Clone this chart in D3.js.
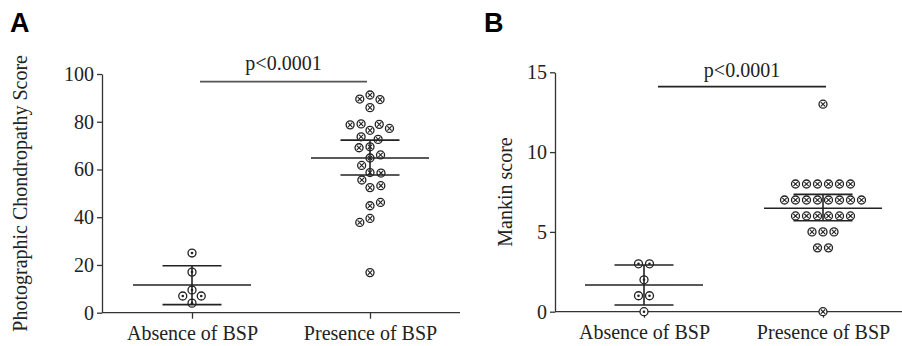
<!DOCTYPE html>
<html><head><meta charset="utf-8">
<script src="https://cdn.jsdelivr.net/npm/d3@7"></script>
<style>
html,body{margin:0;padding:0;background:#fff;}
svg{display:block;}
text{fill:#222;}
</style></head>
<body>
<svg id="chart" width="902" height="346"></svg>
<script>
// ---------- data ----------
const categories = ["Absence of BSP", "Presence of BSP"];

// Panel A: Photographic Chondropathy Score
const ticksA = [0, 20, 40, 60, 80, 100];
const absenceA = [25, 17, 9.5, 4, 7, 7];
const presenceA = [91.2, 85.9, 76.4, 69.5, 64.8, 58.7, 52.4, 16.8,
  89.5, 89.3, 78.9, 79.1, 78.7, 77.2, 73.7, 72.6, 69.1, 66.1, 61.7, 58.5,
  55.6, 53.2, 44.8, 46.2, 39.5, 37.8];
const meanA = [11.6, 64.8];
const lowA = [3.4, 57.7];
const highA = [19.7, 72.3];
const bracketA = 96.8;

// Panel B: Mankin score
const ticksB = [0, 5, 10, 15];
const absenceB = [3, 3, 2, 1, 1, 0];
const presenceB = [13, 8, 8, 8, 8, 8, 8, 7, 7, 7, 7, 7, 7, 7, 7,
  6, 6, 6, 6, 6, 6, 5, 5, 5, 4, 4, 0];
const meanB = [1.67, 6.48];
const lowB = [0.42, 5.70];
const highB = [2.93, 7.35];
const bracketB = 14.1;

const pLabel = "p<0.0001";

// ---------- helpers ----------
const svg = d3.select("#chart");
const INK = "#222";
const SERIF = "'Liberation Serif', 'Times New Roman', serif";
const D = 11; // collision diameter for swarm

function swarm(values, y) {
  const groups = [];
  const map = new Map();
  values.forEach(v => {
    if (!map.has(v)) { const g = {v, n: 0}; map.set(v, g); groups.push(g); }
    map.get(v).n++;
  });
  const placed = [];
  let toggle = -1;
  const collides = (x, py) => placed.some(p => {
    const dy = p.y - py, dx = p.x - x;
    return dx * dx + dy * dy < D * D - 0.01;
  });
  groups.forEach(g => {
    const py = y(g.v);
    if (g.n === 1) {
      const cands = [0];
      placed.forEach(p => {
        const dy = Math.abs(p.y - py);
        if (dy < D) { const w = Math.sqrt(D * D - dy * dy); cands.push(p.x - w, p.x + w); }
      });
      const ok = cands.filter(c => !collides(c, py));
      ok.sort((a, b) => Math.abs(a) - Math.abs(b));
      let best = ok[0];
      const alt = ok.find(c => Math.abs(Math.abs(c) - Math.abs(best)) < 0.01 && Math.sign(c) !== Math.sign(best));
      if (alt !== undefined && best !== 0) {
        if (Math.sign(best) !== toggle) best = alt;
        toggle = -toggle;
      }
      placed.push({v: g.v, x: best, y: py});
    } else {
      let gap = D;
      let offs;
      for (let k = 0; k < 200; k++) {
        offs = d3.range(g.n).map(i => (i - (g.n - 1) / 2) * gap);
        if (!offs.some(o => collides(o, py))) break;
        gap += 0.25;
      }
      offs.forEach(o => placed.push({v: g.v, x: o, y: py}));
    }
  });
  return placed;
}

function drawMarkers(g, pts, cx, kind) {
  const m = g.selectAll(null).data(pts).enter().append("g")
    .attr("transform", d => `translate(${cx + d.x},${d.y})`);
  m.append("circle").attr("r", 4).attr("fill", "#fff")
    .attr("stroke", INK).attr("stroke-width", 1.3);
  if (kind === "x") {
    m.append("path").attr("d", "M-2.2,-2.2L2.2,2.2M-2.2,2.2L2.2,-2.2")
      .attr("stroke", INK).attr("stroke-width", 1.1);
  } else {
    m.append("circle").attr("r", 1.3).attr("fill", INK);
  }
}

function panel(cfg) {
  const g = svg.append("g");
  const y = d3.scaleLinear().domain(cfg.domain).range(cfg.yRange);
  const x = d3.scalePoint().domain(categories).range(cfg.xRange);

  // y axis
  const ya = g.append("g").attr("transform", `translate(${cfg.axisX},0)`)
    .call(d3.axisLeft(y).tickValues(cfg.ticks).tickSize(5).tickSizeOuter(0).tickPadding(3));
  ya.selectAll("path,line").attr("stroke", "#333").attr("stroke-width", 1.3);
  ya.selectAll("text").style("font-size", "20px").style("font-family", SERIF).style("fill", "#222");

  // x axis
  const xa = g.append("g").attr("transform", `translate(0,${y(0)})`)
    .call(d3.axisBottom(x).tickSize(6).tickSizeOuter(0).tickPadding(7));
  xa.select(".domain").remove();
  xa.selectAll("line").attr("stroke", "#333").attr("stroke-width", 1.3);
  xa.selectAll("text").style("font-size", "20px").style("font-family", SERIF).style("fill", "#222");
  g.append("line").attr("x1", cfg.axisX).attr("x2", cfg.xEnd)
    .attr("y1", y(0)).attr("y2", y(0)).attr("stroke", "#333").attr("stroke-width", 1.3);

  // y title
  const [y0, y1] = cfg.yRange;
  g.append("text")
    .attr("transform", `translate(${cfg.titleX},${(y0 + y1) / 2}) rotate(-90)`)
    .attr("text-anchor", "middle").attr("dy", "0.35em")
    .style("font-size", "20px").style("font-family", SERIF).text(cfg.title);

  // points
  drawMarkers(g, swarm(cfg.abs, y), x(categories[0]), "dot");
  drawMarkers(g, swarm(cfg.pres, y), x(categories[1]), "x");

  // mean + CI
  categories.forEach((c, i) => {
    const cx = x(c);
    const eg = g.append("g").attr("stroke", INK).attr("stroke-width", 1.6);
    eg.append("line").attr("x1", cx - 59).attr("x2", cx + 59)
      .attr("y1", y(cfg.mean[i])).attr("y2", y(cfg.mean[i]));
    eg.append("line").attr("x1", cx).attr("x2", cx)
      .attr("y1", y(cfg.low[i])).attr("y2", y(cfg.high[i]));
    [cfg.low[i], cfg.high[i]].forEach(v => {
      eg.append("line").attr("x1", cx - 29.5).attr("x2", cx + 29.5)
        .attr("y1", y(v)).attr("y2", y(v));
    });
  });

  // significance bracket
  const bx1 = x(categories[0]) + cfg.bOff[0], bx2 = x(categories[1]) + cfg.bOff[1];
  g.append("line").attr("x1", bx1).attr("x2", bx2)
    .attr("y1", y(cfg.bracket)).attr("y2", y(cfg.bracket))
    .attr("stroke", cfg.bColor).attr("stroke-width", 1.6);
  g.append("text").attr("x", (bx1 + bx2) / 2).attr("y", y(cfg.bracket) - cfg.pGap)
    .attr("text-anchor", "middle")
    .style("font-size", "20px").style("font-family", SERIF).text(pLabel);

  // panel letter
  svg.append("text").attr("x", cfg.letterX).attr("y", 32)
    .style("font-family", "'Liberation Sans', Arial, sans-serif")
    .style("font-weight", "bold").style("font-size", "27px").style("fill", "#000")
    .text(cfg.letter);
}

panel({
  letter: "A", letterX: 10,
  domain: [0, 100], yRange: [312.7, 74], xRange: [192, 370],
  axisX: 102, xEnd: 460, ticks: ticksA, titleX: 20,
  title: "Photographic Chondropathy Score",
  abs: absenceA, pres: presenceA, mean: meanA, low: lowA, high: highA,
  bracket: bracketA, bOff: [8, -3], bColor: "#555", pGap: 12
});
panel({
  letter: "B", letterX: 484,
  domain: [0, 15], yRange: [311.7, 72.3], xRange: [644, 823],
  axisX: 555, xEnd: 902, ticks: ticksB, titleX: 505,
  title: "Mankin score",
  abs: absenceB, pres: presenceB, mean: meanB, low: lowB, high: highB,
  bracket: bracketB, bOff: [14, 3], bColor: "#222", pGap: 10
});
</script>
</body></html>
